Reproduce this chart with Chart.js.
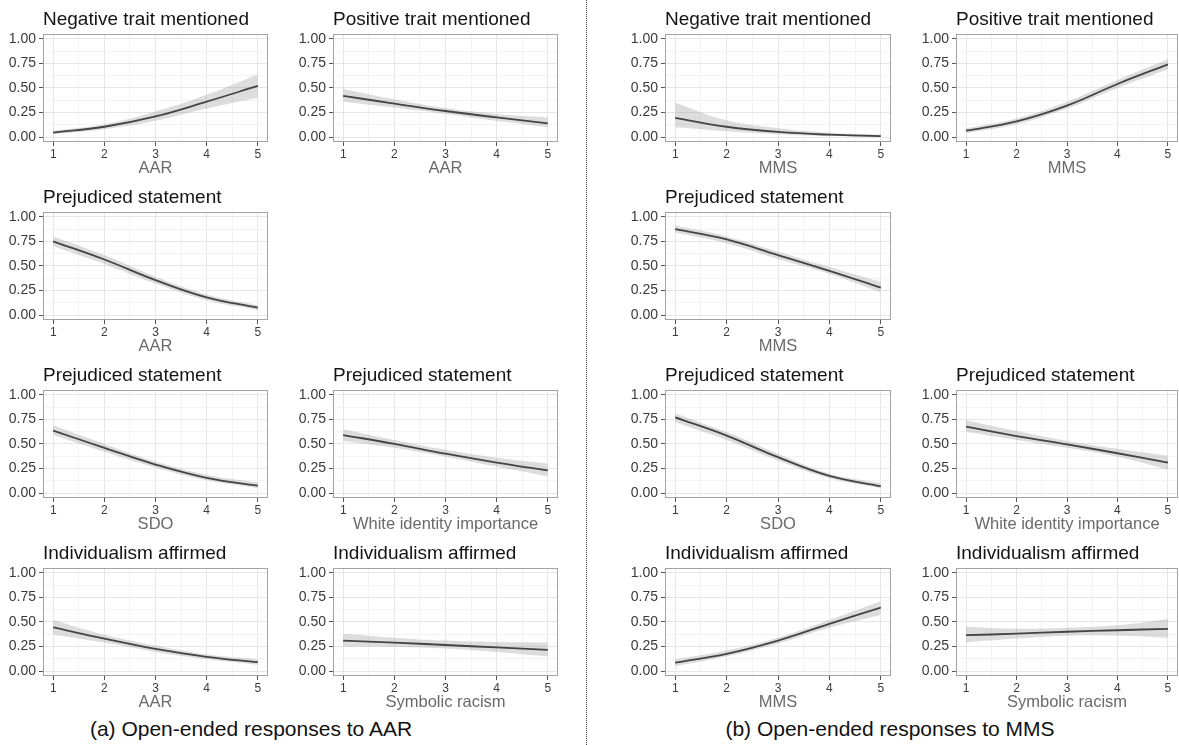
<!DOCTYPE html>
<html>
<head>
<meta charset="utf-8">
<script src="https://cdn.jsdelivr.net/npm/chart.js@4.4.1/dist/chart.umd.min.js"></script>
<style>
  html, body { margin: 0; padding: 0; background: #fff; }
  #wrap { position: relative; width: 1179px; height: 745px; overflow: hidden; font-family: 'Liberation Sans', Arial, sans-serif; }
  #wrap canvas { position: absolute; }
  .sep { position: absolute; left: 586px; top: 0; height: 745px; border-left: 1px dotted #444; }
  .caption { position: absolute; top: 717px; font-size: 21px; color: #111; white-space: nowrap; transform: translateX(-50%); }
</style>
</head>
<body>
<div id="wrap">
  <div class="sep"></div>
  <div class="caption" style="left:251px">(a) Open-ended responses to AAR</div>
  <div class="caption" style="left:890px">(b) Open-ended responses to MMS</div>
</div>
<script>
// predictor values and axis breaks shared by every panel
const xValues = [1, 2, 3, 4, 5];
const xMajor = [1, 2, 3, 4, 5];
const xMinor = [1.5, 2.5, 3.5, 4.5];
const yMajor = [0, 0.25, 0.5, 0.75, 1];
const yMinor = [0.125, 0.375, 0.625, 0.875];

// (a) responses to AAR: fitted probability with lower / upper band
const negAarFit = [0.045, 0.105, 0.21, 0.36, 0.52];
const negAarLo = [0.03, 0.08, 0.165, 0.29, 0.40];
const negAarHi = [0.065, 0.13, 0.26, 0.43, 0.64];

const posAarFit = [0.42, 0.34, 0.265, 0.20, 0.14];
const posAarLo = [0.36, 0.30, 0.235, 0.165, 0.10];
const posAarHi = [0.49, 0.385, 0.295, 0.235, 0.20];

const prejAarFit = [0.75, 0.565, 0.355, 0.18, 0.075];
const prejAarLo = [0.70, 0.52, 0.32, 0.15, 0.05];
const prejAarHi = [0.80, 0.61, 0.39, 0.21, 0.10];

const prejSdoAFit = [0.635, 0.46, 0.29, 0.155, 0.075];
const prejSdoALo = [0.59, 0.42, 0.26, 0.13, 0.05];
const prejSdoAHi = [0.69, 0.50, 0.32, 0.185, 0.11];

const prejWhiteAFit = [0.59, 0.50, 0.40, 0.31, 0.23];
const prejWhiteALo = [0.53, 0.46, 0.37, 0.27, 0.17];
const prejWhiteAHi = [0.65, 0.54, 0.44, 0.36, 0.30];

const indAarFit = [0.445, 0.33, 0.225, 0.145, 0.09];
const indAarLo = [0.37, 0.29, 0.195, 0.12, 0.065];
const indAarHi = [0.52, 0.37, 0.26, 0.17, 0.12];

const indSrAFit = [0.31, 0.29, 0.265, 0.24, 0.215];
const indSrALo = [0.25, 0.245, 0.23, 0.195, 0.15];
const indSrAHi = [0.38, 0.34, 0.31, 0.295, 0.29];

// (b) responses to MMS
const negMmsFit = [0.195, 0.105, 0.052, 0.024, 0.01];
const negMmsLo = [0.10, 0.06, 0.03, 0.01, 0.0];
const negMmsHi = [0.35, 0.17, 0.09, 0.045, 0.025];

const posMmsFit = [0.065, 0.16, 0.32, 0.54, 0.74];
const posMmsLo = [0.04, 0.13, 0.29, 0.50, 0.69];
const posMmsHi = [0.09, 0.19, 0.36, 0.58, 0.79];

const prejMmsFit = [0.875, 0.77, 0.61, 0.45, 0.28];
const prejMmsLo = [0.84, 0.73, 0.57, 0.42, 0.23];
const prejMmsHi = [0.91, 0.80, 0.645, 0.49, 0.34];

const prejSdoBFit = [0.77, 0.585, 0.365, 0.175, 0.07];
const prejSdoBLo = [0.72, 0.54, 0.33, 0.15, 0.05];
const prejSdoBHi = [0.81, 0.62, 0.40, 0.20, 0.10];

const prejWhiteBFit = [0.675, 0.58, 0.495, 0.405, 0.31];
const prejWhiteBLo = [0.62, 0.54, 0.46, 0.37, 0.24];
const prejWhiteBHi = [0.74, 0.63, 0.53, 0.45, 0.38];

const indMmsFit = [0.085, 0.175, 0.31, 0.48, 0.645];
const indMmsLo = [0.05, 0.15, 0.28, 0.44, 0.57];
const indMmsHi = [0.12, 0.21, 0.34, 0.52, 0.71];

const indSrBFit = [0.365, 0.38, 0.40, 0.415, 0.43];
const indSrBLo = [0.29, 0.33, 0.36, 0.36, 0.34];
const indSrBHi = [0.45, 0.43, 0.44, 0.465, 0.53];

// panel grid: left edge / width of each plot column, top of each plot row
const colLeft = [43, 333, 665, 956];
const colWidth = [225, 225, 226, 222];
const rowTop = [34, 212, 390, 568];
const plotHeight = 108;

const panels = [
  { col: 0, row: 0, title: 'Negative trait mentioned', xTitle: 'AAR', fit: negAarFit, lo: negAarLo, hi: negAarHi },
  { col: 1, row: 0, title: 'Positive trait mentioned', xTitle: 'AAR', fit: posAarFit, lo: posAarLo, hi: posAarHi },
  { col: 0, row: 1, title: 'Prejudiced statement', xTitle: 'AAR', fit: prejAarFit, lo: prejAarLo, hi: prejAarHi },
  { col: 0, row: 2, title: 'Prejudiced statement', xTitle: 'SDO', fit: prejSdoAFit, lo: prejSdoALo, hi: prejSdoAHi },
  { col: 1, row: 2, title: 'Prejudiced statement', xTitle: 'White identity importance', fit: prejWhiteAFit, lo: prejWhiteALo, hi: prejWhiteAHi },
  { col: 0, row: 3, title: 'Individualism affirmed', xTitle: 'AAR', fit: indAarFit, lo: indAarLo, hi: indAarHi },
  { col: 1, row: 3, title: 'Individualism affirmed', xTitle: 'Symbolic racism', fit: indSrAFit, lo: indSrALo, hi: indSrAHi },
  { col: 2, row: 0, title: 'Negative trait mentioned', xTitle: 'MMS', fit: negMmsFit, lo: negMmsLo, hi: negMmsHi },
  { col: 3, row: 0, title: 'Positive trait mentioned', xTitle: 'MMS', fit: posMmsFit, lo: posMmsLo, hi: posMmsHi },
  { col: 2, row: 1, title: 'Prejudiced statement', xTitle: 'MMS', fit: prejMmsFit, lo: prejMmsLo, hi: prejMmsHi },
  { col: 2, row: 2, title: 'Prejudiced statement', xTitle: 'SDO', fit: prejSdoBFit, lo: prejSdoBLo, hi: prejSdoBHi },
  { col: 3, row: 2, title: 'Prejudiced statement', xTitle: 'White identity importance', fit: prejWhiteBFit, lo: prejWhiteBLo, hi: prejWhiteBHi },
  { col: 2, row: 3, title: 'Individualism affirmed', xTitle: 'MMS', fit: indMmsFit, lo: indMmsLo, hi: indMmsHi },
  { col: 3, row: 3, title: 'Individualism affirmed', xTitle: 'Symbolic racism', fit: indSrBFit, lo: indSrBLo, hi: indSrBHi },
];

Chart.defaults.font.family = "'Liberation Sans', Arial, sans-serif";

const Y_AXIS_W = 43;
const X_AXIS_H = 36;

// panel border on all four sides, drawn over the data
const panelBorder = {
  id: 'panelBorder',
  afterDraw(chart) {
    const { ctx, chartArea: a } = chart;
    ctx.save();
    ctx.strokeStyle = '#a3a3a3';
    ctx.lineWidth = 1;
    ctx.strokeRect(Math.round(a.left) + 0.5, Math.round(a.top) + 0.5,
      Math.round(a.right - a.left) - 1, Math.round(a.bottom - a.top) - 1);
    ctx.restore();
  }
};

const isMajor = (list, v) => list.some(m => Math.abs(m - v) < 1e-6);

function pts(ys) {
  return xValues.map((x, i) => ({ x, y: ys[i] }));
}

function makePanel(p) {
  const canvas = document.createElement('canvas');
  const w = Y_AXIS_W + colWidth[p.col] + 3;
  const h = rowTop[0] + plotHeight + X_AXIS_H;
  canvas.width = w;
  canvas.height = h;
  canvas.style.left = (colLeft[p.col] - Y_AXIS_W) + 'px';
  canvas.style.top = (rowTop[p.row] - rowTop[0]) + 'px';
  document.getElementById('wrap').appendChild(canvas);

  new Chart(canvas, {
    type: 'line',
    data: {
      datasets: [
        { data: pts(p.lo), borderWidth: 0, borderColor: 'transparent', pointRadius: 0, fill: false, tension: 0.4 },
        { data: pts(p.hi), borderWidth: 0, borderColor: 'transparent', pointRadius: 0, fill: '-1',
          backgroundColor: 'rgba(150,150,150,0.32)', tension: 0.4 },
        { data: pts(p.fit), borderColor: '#1e1e1e', borderWidth: 1.8, pointRadius: 0, fill: false, tension: 0.4 },
      ]
    },
    options: {
      responsive: false,
      animation: false,
      events: [],
      layout: { padding: { left: 0, right: 3, top: 0, bottom: 0 } },
      plugins: {
        legend: { display: false },
        tooltip: { enabled: false },
        title: {
          display: true,
          text: p.title,
          align: 'start',
          fullSize: false,
          color: '#141414',
          font: { size: 19, weight: 'normal' },
          padding: { top: 8, bottom: 3 }
        }
      },
      scales: {
        x: {
          type: 'linear',
          min: 0.8,
          max: 5.2,
          afterBuildTicks: s => { s.ticks = [...xMajor, ...xMinor].sort((a, b) => a - b).map(v => ({ value: v })); },
          afterFit: s => { s.height = X_AXIS_H; },
          border: { display: false },
          grid: {
            color: c => isMajor(xMajor, c.tick.value) ? '#e6e6e6' : '#f3f3f3',
            tickColor: c => isMajor(xMajor, c.tick.value) ? '#555' : 'rgba(0,0,0,0)',
            tickLength: 4,
            lineWidth: 1
          },
          ticks: {
            autoSkip: false,
            maxRotation: 0,
            padding: 1,
            color: '#3c3c3c',
            font: { size: 12 },
            callback: v => isMajor(xMajor, v) ? String(v) : ''
          },
          title: {
            display: true,
            text: p.xTitle,
            color: '#6a6a6a',
            font: { size: 16.5, lineHeight: 1.1 },
            padding: { top: 0, bottom: 0 }
          }
        },
        y: {
          type: 'linear',
          min: -0.05,
          max: 1.05,
          afterBuildTicks: s => { s.ticks = [...yMajor, ...yMinor].sort((a, b) => a - b).map(v => ({ value: v })); },
          afterFit: s => { s.width = Y_AXIS_W; },
          border: { display: false },
          grid: {
            color: c => isMajor(yMajor, c.tick.value) ? '#e6e6e6' : '#f3f3f3',
            tickColor: c => isMajor(yMajor, c.tick.value) ? '#555' : 'rgba(0,0,0,0)',
            tickLength: 4,
            lineWidth: 1
          },
          ticks: {
            autoSkip: false,
            padding: 3,
            color: '#3a3a3a',
            font: { size: 14 },
            callback: v => isMajor(yMajor, v) ? v.toFixed(2) : ''
          }
        }
      }
    },
    plugins: [panelBorder]
  });
}

panels.forEach(makePanel);
</script>
</body>
</html>
